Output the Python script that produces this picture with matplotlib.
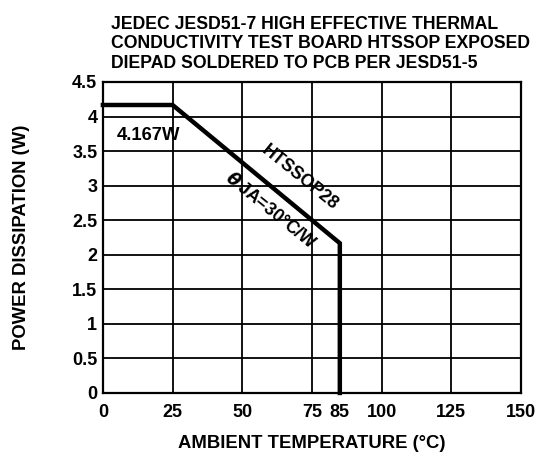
import matplotlib
matplotlib.use('Agg')
import matplotlib.pyplot as plt

plt.rcParams['font.family'] = ['Liberation Sans', 'DejaVu Sans']
plt.rcParams['font.weight'] = 'bold'

# derating curve
temp = [0, 25, 85, 85]
power = [4.167, 4.167, 2.167, 0]
xticks = [0, 25, 50, 75, 85, 100, 125, 150]
xgrid = [25, 50, 75, 100, 125]
yticks = [0, 0.5, 1, 1.5, 2, 2.5, 3, 3.5, 4, 4.5]
ytick_labels = ['0', '0.5', '1', '1.5', '2', '2.5', '3', '3.5', '4', '4.5']

fig = plt.figure(figsize=(5.36, 4.58), dpi=100)
ax = fig.add_axes([0.192, 0.142, 0.78, 0.679])

for x in xgrid:
    ax.axvline(x, color='black', lw=1.3, zorder=1)
for y in yticks[1:-1]:
    ax.axhline(y, color='black', lw=1.3, zorder=1)

ax.plot(temp, power, color='black', lw=3.2, solid_joinstyle='miter', zorder=3, clip_on=False)

ax.set_xlim(0, 150)
ax.set_ylim(0, 4.5)
ax.set_xticks(xticks)
ax.set_xticklabels([str(t) for t in xticks], fontsize=13, fontweight='bold')
ax.set_yticks(yticks)
ax.set_yticklabels(ytick_labels, fontsize=13, fontweight='bold')
ax.tick_params(axis='x', length=0, pad=8)
ax.tick_params(axis='y', length=0, pad=4)
for s in ax.spines.values():
    s.set_linewidth(1.6)

ax.set_xlabel('AMBIENT TEMPERATURE (°C)', fontsize=13.3, fontweight='bold', labelpad=10)
ax.set_ylabel('POWER DISSIPATION (W)', fontsize=13.3, fontweight='bold', labelpad=30)

ax.text(5, 3.73, '4.167W', fontsize=13.3, fontweight='bold', va='center', ha='left')
ax.text(70.7, 3.11, 'HTSSOP28', fontsize=12.8, fontweight='bold', rotation=-39,
        ha='center', va='center', rotation_mode='anchor')
ax.text(60.3, 2.64, r'$\theta\,$JA=30°C/W', fontsize=12.8, fontweight='bold', rotation=-39,
        ha='center', va='center', rotation_mode='anchor')

fig.text(0.207, 0.966, 'JEDEC JESD51-7 HIGH EFFECTIVE THERMAL\n'
         'CONDUCTIVITY TEST BOARD HTSSOP EXPOSED\n'
         'DIEPAD SOLDERED TO PCB PER JESD51-5',
         fontsize=12.7, fontweight='bold', ha='left', va='top', linespacing=1.2)

fig.savefig('out.png', dpi=100)
